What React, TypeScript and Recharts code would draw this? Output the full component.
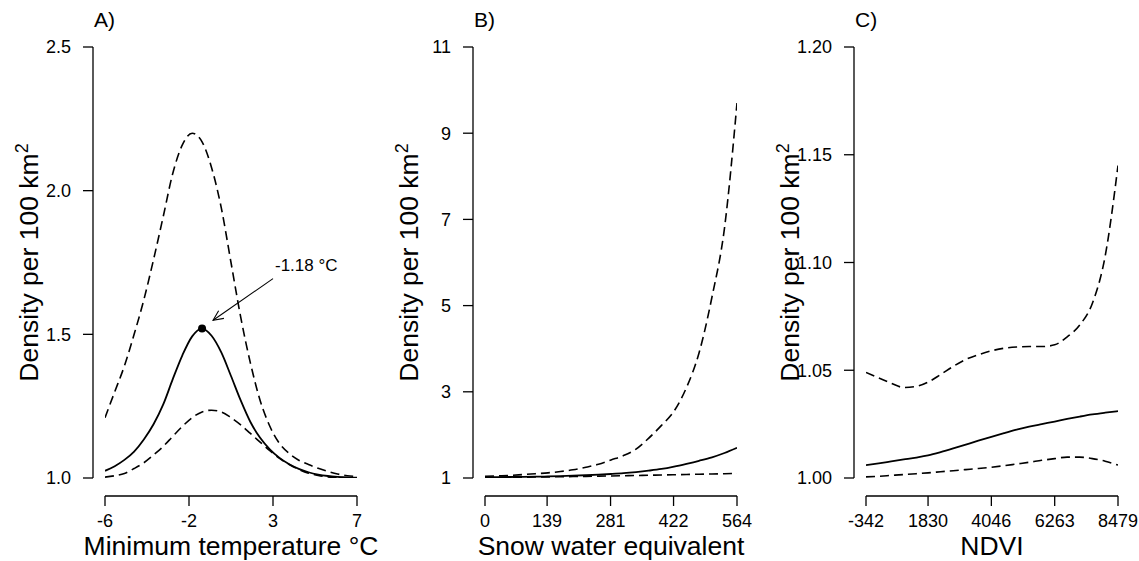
import React from 'react';
import { LineChart, Line, XAxis, YAxis, ReferenceLine, ReferenceDot } from 'recharts';

const FONT = '"Liberation Sans", Arial, Helvetica, sans-serif';
const INK = '#000';

// ---------- Panel A: minimum temperature ----------
const tempX = [-6.38, -5.86, -5.34, -4.82, -4.3, -3.78, -3.26, -2.75, -2.23, -1.71, -1.18, -0.67, -0.15, 0.37, 0.89, 1.41, 1.93, 2.45, 2.97, 3.49, 4.0, 4.52, 5.04, 5.56, 6.08, 6.6, 7.12];
const tempFit = [1.025, 1.041, 1.063, 1.092, 1.134, 1.187, 1.256, 1.344, 1.428, 1.493, 1.52, 1.495, 1.437, 1.355, 1.27, 1.195, 1.14, 1.1, 1.07, 1.048, 1.032, 1.02, 1.012, 1.007, 1.004, 1.002, 1.001];
const tempUpper = [1.21, 1.3, 1.39, 1.5, 1.62, 1.76, 1.91, 2.06, 2.16, 2.2, 2.17, 2.08, 1.94, 1.75, 1.56, 1.4, 1.27, 1.18, 1.12, 1.085, 1.062, 1.047, 1.034, 1.023, 1.014, 1.008, 1.005];
const tempLower = [1.003, 1.008, 1.016, 1.033, 1.053, 1.08, 1.11, 1.145, 1.18, 1.21, 1.23, 1.236, 1.23, 1.21, 1.185, 1.155, 1.125, 1.095, 1.068, 1.047, 1.03, 1.017, 1.009, 1.004, 1.002, 1.001, 1.0];
const tempTicks = [-6.38, -1.88, 2.62, 7.12];
const tempTickLabels = ['-6', '-2', '3', '7'];
const densTicksA = [1.0, 1.5, 2.0, 2.5];
const densLabelsA = ['1.0', '1.5', '2.0', '2.5'];
const peakTemp = -1.18;
const peakDensity = 1.52;
const arrowStart = { x: 2.62, y: 1.694 };
const arrowEnd = { x: -0.59, y: 1.549 };
const peakLabel = '-1.18 \u00B0C';

// ---------- Panel B: snow water equivalent ----------
const sweX = [0, 28, 56, 85, 113, 141, 169, 197, 226, 254, 282, 310, 338, 366, 395, 423, 451, 479, 508, 536, 564];
const sweFit = [1.02, 1.021, 1.023, 1.026, 1.03, 1.036, 1.044, 1.053, 1.064, 1.077, 1.093, 1.112, 1.138, 1.17, 1.21, 1.265, 1.33, 1.4, 1.48, 1.58, 1.7];
const sweUpper = [1.04, 1.05, 1.06, 1.08, 1.1, 1.12, 1.15, 1.19, 1.25, 1.32, 1.42, 1.52, 1.67, 1.92, 2.22, 2.55, 3.1, 3.9, 5.2, 6.8, 9.7];
const sweLower = [1.01, 1.013, 1.016, 1.019, 1.022, 1.026, 1.03, 1.034, 1.038, 1.043, 1.048, 1.053, 1.058, 1.064, 1.07, 1.076, 1.082, 1.088, 1.094, 1.1, 1.106];
const sweTicks = [0, 139, 281, 422, 564];
const sweTickLabels = ['0', '139', '281', '422', '564'];
const densTicksB = [1, 3, 5, 7, 9, 11];
const densLabelsB = ['1', '3', '5', '7', '9', '11'];

// ---------- Panel C: NDVI ----------
const ndviX = [-342, 100, 540, 980, 1420, 1830, 2270, 2710, 3150, 3590, 4046, 4490, 4930, 5370, 5810, 6263, 6700, 7140, 7580, 8030, 8479];
const ndviFit = [1.006, 1.0068, 1.0077, 1.0086, 1.0095, 1.0105, 1.012, 1.0137, 1.0155, 1.0173, 1.0191, 1.0208, 1.0224, 1.0238, 1.025, 1.0262, 1.0274, 1.0285, 1.0295, 1.0303, 1.031];
const ndviUpper = [1.049, 1.0465, 1.044, 1.042, 1.0425, 1.0445, 1.048, 1.0518, 1.055, 1.0572, 1.059, 1.0602, 1.0608, 1.061, 1.061, 1.0618, 1.0655, 1.071, 1.081, 1.103, 1.145];
const ndviLower = [1.0005, 1.0008, 1.0012, 1.0016, 1.002, 1.0024, 1.0029, 1.0034, 1.0039, 1.0044, 1.005, 1.0057, 1.0065, 1.0073, 1.0082, 1.009, 1.0097, 1.0097, 1.009, 1.0078, 1.006];
const ndviTicks = [-342, 1830, 4046, 6263, 8479];
const ndviTickLabels = ['-342', '1830', '4046', '6263', '8479'];
const densTicksC = [1.0, 1.05, 1.1, 1.15, 1.2];
const densLabelsC = ['1.00', '1.05', '1.10', '1.15', '1.20'];

const yTitle = 'Density per 100 km';
const yTitleSup = '2';

// ---------- layout ----------
const W = 380;
const H = 561;
const PAD_X = 12;
const PAD_Y = 18;
const MARGIN = { top: 29, right: 11, bottom: 0, left: 0 };
const Y_AXIS_W = 93;
const X_AXIS_H = 65;

type Row = { x: number; fit: number; upper: number; lower: number };

const makeRows = (xs: number[], fit: number[], up: number[], lo: number[]): Row[] =>
  xs.map((x, i) => ({ x, fit: fit[i], upper: up[i], lower: lo[i] }));

const renderYTitle = (props: any) => {
  const vb = props && props.viewBox ? props.viewBox : null;
  const cy = vb && vb.height ? vb.y + vb.height / 2 : 262.5;
  return (
    <text
      x={0}
      y={0}
      transform={`translate(38, ${cy}) rotate(-90)`}
      textAnchor="middle"
      fill={INK}
      fontSize={26.5}
      fontFamily={FONT}
    >
      {yTitle}
      <tspan dy={-10} fontSize={18}>{yTitleSup}</tspan>
    </text>
  );
};

type PanelProps = {
  left: number;
  title: string;
  xTitle: string;
  rows: Row[];
  xDomain: [number, number];
  xTicks: number[];
  xLabels: string[];
  yDomain: [number, number];
  yTicks: number[];
  yLabels: string[];
  annotate?: boolean;
};

const Panel = (p: PanelProps) => {
  const tickStyle = { fill: INK, fontSize: 18, fontFamily: FONT };
  const tickLineStyle = { stroke: INK, strokeWidth: 1.3 };
  return (
    <div style={{ position: 'absolute', left: p.left, top: 0, width: W, height: H }}>
      <LineChart width={W} height={H} data={p.rows} margin={MARGIN}>
        <XAxis
          type="number"
          dataKey="x"
          domain={p.xDomain}
          ticks={p.xTicks}
          interval={0}
          allowDataOverflow
          tickFormatter={(v: number) => p.xLabels[p.xTicks.indexOf(v)]}
          padding={{ left: PAD_X, right: PAD_X }}
          height={X_AXIS_H}
          axisLine={false}
          tickLine={tickLineStyle}
          tickSize={10}
          tickMargin={8}
          tick={tickStyle}
          label={{ value: p.xTitle, position: 'insideBottom', offset: 6, fill: INK, fontSize: 26.5, fontFamily: FONT }}
        />
        <YAxis
          type="number"
          domain={p.yDomain}
          ticks={p.yTicks}
          interval={0}
          allowDataOverflow
          tickFormatter={(v: number) => p.yLabels[p.yTicks.indexOf(v)]}
          padding={{ top: PAD_Y, bottom: PAD_Y }}
          width={Y_AXIS_W}
          axisLine={false}
          tickLine={tickLineStyle}
          tickSize={10}
          tickMargin={12}
          tick={tickStyle}
          label={renderYTitle}
        />
        <ReferenceLine
          segment={[{ x: p.xDomain[0], y: p.yDomain[0] }, { x: p.xDomain[0], y: p.yDomain[1] }]}
          ifOverflow="visible"
          shape={(s: any) => (
            <line x1={s.x1 - PAD_X} y1={s.y1} x2={s.x2 - PAD_X} y2={s.y2} stroke={INK} strokeWidth={1.3} />
          )}
        />
        <ReferenceLine
          segment={[{ x: p.xDomain[0], y: p.yDomain[0] }, { x: p.xDomain[1], y: p.yDomain[0] }]}
          ifOverflow="visible"
          shape={(s: any) => (
            <line x1={s.x1} y1={s.y1 + PAD_Y} x2={s.x2} y2={s.y2 + PAD_Y} stroke={INK} strokeWidth={1.3} />
          )}
        />
        <Line type="monotone" dataKey="upper" stroke={INK} strokeWidth={1.6} strokeDasharray="9 5" dot={false} isAnimationActive={false} />
        <Line type="monotone" dataKey="lower" stroke={INK} strokeWidth={1.6} strokeDasharray="9 5" dot={false} isAnimationActive={false} />
        <Line type="monotone" dataKey="fit" stroke={INK} strokeWidth={1.8} dot={false} isAnimationActive={false} />
        {p.annotate && (
          <ReferenceLine
            segment={[arrowStart, arrowEnd]}
            ifOverflow="visible"
            shape={(s: any) => {
              const a = Math.atan2(s.y2 - s.y1, s.x2 - s.x1);
              const L = 11;
              const f = (25 * Math.PI) / 180;
              const h1x = s.x2 - L * Math.cos(a - f);
              const h1y = s.y2 - L * Math.sin(a - f);
              const h2x = s.x2 - L * Math.cos(a + f);
              const h2y = s.y2 - L * Math.sin(a + f);
              return (
                <g>
                  <line x1={s.x1} y1={s.y1} x2={s.x2} y2={s.y2} stroke={INK} strokeWidth={1.1} />
                  <polyline points={`${h1x},${h1y} ${s.x2},${s.y2} ${h2x},${h2y}`} fill="none" stroke={INK} strokeWidth={1.1} />
                  <text x={s.x1 + 2} y={s.y1 - 8} fill={INK} fontSize={17} fontFamily={FONT}>{peakLabel}</text>
                </g>
              );
            }}
          />
        )}
        {p.annotate && (
          <ReferenceDot x={peakTemp} y={peakDensity} r={4} fill={INK} stroke="none" ifOverflow="visible" />
        )}
      </LineChart>
      <div
        style={{
          position: 'absolute',
          left: 94,
          top: 9,
          fontSize: 21,
          lineHeight: '21px',
          fontFamily: FONT,
          color: INK,
          whiteSpace: 'nowrap',
        }}
      >
        {p.title}
      </div>
    </div>
  );
};

export default function App() {
  return (
    <div style={{ position: 'absolute', left: 0, top: 0, width: 1139, height: 561, background: '#fff', fontFamily: FONT }}>
      <Panel
        left={0}
        title="A)"
        xTitle={'Minimum temperature \u00B0C'}
        rows={makeRows(tempX, tempFit, tempUpper, tempLower)}
        xDomain={[-6.38, 7.12]}
        xTicks={tempTicks}
        xLabels={tempTickLabels}
        yDomain={[1.0, 2.5]}
        yTicks={densTicksA}
        yLabels={densLabelsA}
        annotate
      />
      <Panel
        left={380}
        title="B)"
        xTitle="Snow water equivalent"
        rows={makeRows(sweX, sweFit, sweUpper, sweLower)}
        xDomain={[0, 564]}
        xTicks={sweTicks}
        xLabels={sweTickLabels}
        yDomain={[1, 11]}
        yTicks={densTicksB}
        yLabels={densLabelsB}
      />
      <Panel
        left={761}
        title="C)"
        xTitle="NDVI"
        rows={makeRows(ndviX, ndviFit, ndviUpper, ndviLower)}
        xDomain={[-342, 8479]}
        xTicks={ndviTicks}
        xLabels={ndviTickLabels}
        yDomain={[1.0, 1.2]}
        yTicks={densTicksC}
        yLabels={densLabelsC}
      />
    </div>
  );
}
